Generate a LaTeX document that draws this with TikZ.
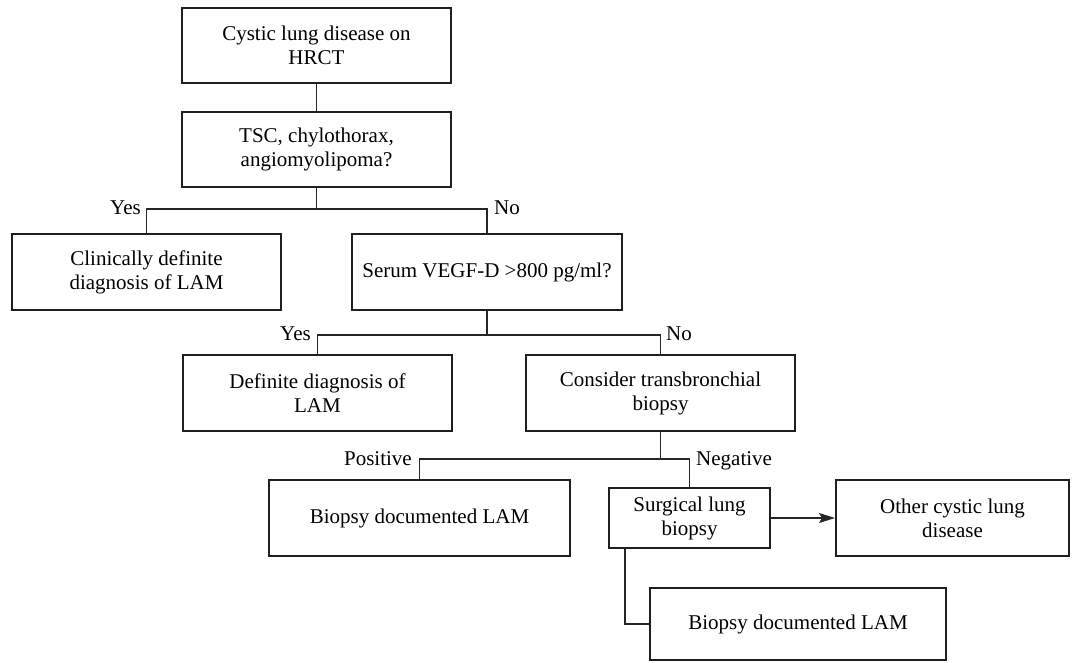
\documentclass[tikz,border=0pt]{standalone}
\usepackage{fontspec}
\setmainfont{Liberation Serif}
\usetikzlibrary{arrows.meta}
\begin{document}
\begin{tikzpicture}[x=1pt,y=-1pt,
  every node/.style={font=\fontsize{21}{24}\selectfont},
  box/.style={draw=black!88, line width=2pt, align=center, inner sep=0pt},
  conn/.style={draw=black!85, line width=1.2pt},
  lab/.style={inner sep=0pt}]
\useasboundingbox (0,0) rectangle (1072,663);
\node[box, minimum width=269, minimum height=75] (b1) at (316.5,45.5) {Cystic lung disease on\\HRCT};
\node[box, minimum width=269, minimum height=75] (b2) at (316.5,149.5) {TSC, chylothorax,\\angiomyolipoma?};
\node[box, minimum width=269, minimum height=76] (clin) at (146.5,272) {Clinically definite\\diagnosis of LAM};
\node[box, minimum width=270, minimum height=76] (serum) at (487,272) {Serum VEGF-D >800 pg/ml?};
\node[box, minimum width=269, minimum height=76] (def) at (317.5,393) {Definite diagnosis of\\LAM};
\node[box, minimum width=269, minimum height=76] (cons) at (660.5,393) {Consider transbronchial\\biopsy};
\node[box, minimum width=301, minimum height=76] (bio1) at (419.5,518) {Biopsy documented LAM};
\node[box, minimum width=161, minimum height=60] (surg) at (689.5,518) {Surgical lung\\biopsy};
\node[box, minimum width=233, minimum height=76] (other) at (952.5,518) {Other cystic lung\\disease};
\node[box, minimum width=296, minimum height=72] (bio2) at (798,624) {Biopsy documented LAM};

\coordinate (j1) at (316.5,209);
\coordinate (j2) at (487,335);
\coordinate (j3) at (660.5,459);

\draw[conn] (b1.south) -- (b2.north);
\draw[conn] (b2.south) -- (j1);
\draw[conn] (clin.north) |- (j1) -| (serum.north);
\draw[conn] (serum.south) -- (j2);
\draw[conn] (def.north) |- (j2) -| (cons.north);
\draw[conn] (cons.south) -- (j3);
\draw[conn] (bio1.north) |- (j3) -| (surg.north);
\draw[conn, -{Stealth[length=16pt,width=10pt,inset=3pt]}] (surg.east) -- (other.west);
\draw[conn] ([xshift=-64.5pt]surg.south) |- (bio2.west);

\node[lab, anchor=base east] (yes1) at (141,215) {Yes};
\node[lab, anchor=base west] (no1) at (494,215) {No};
\node[lab, anchor=base east] (yes2) at (311,341) {Yes};
\node[lab, anchor=base west] (no2) at (666,341) {No};
\node[lab, anchor=base east] (pos) at (412,465) {Positive};
\node[lab, anchor=base west] (neg) at (696,465) {Negative};
\end{tikzpicture}
\end{document}
